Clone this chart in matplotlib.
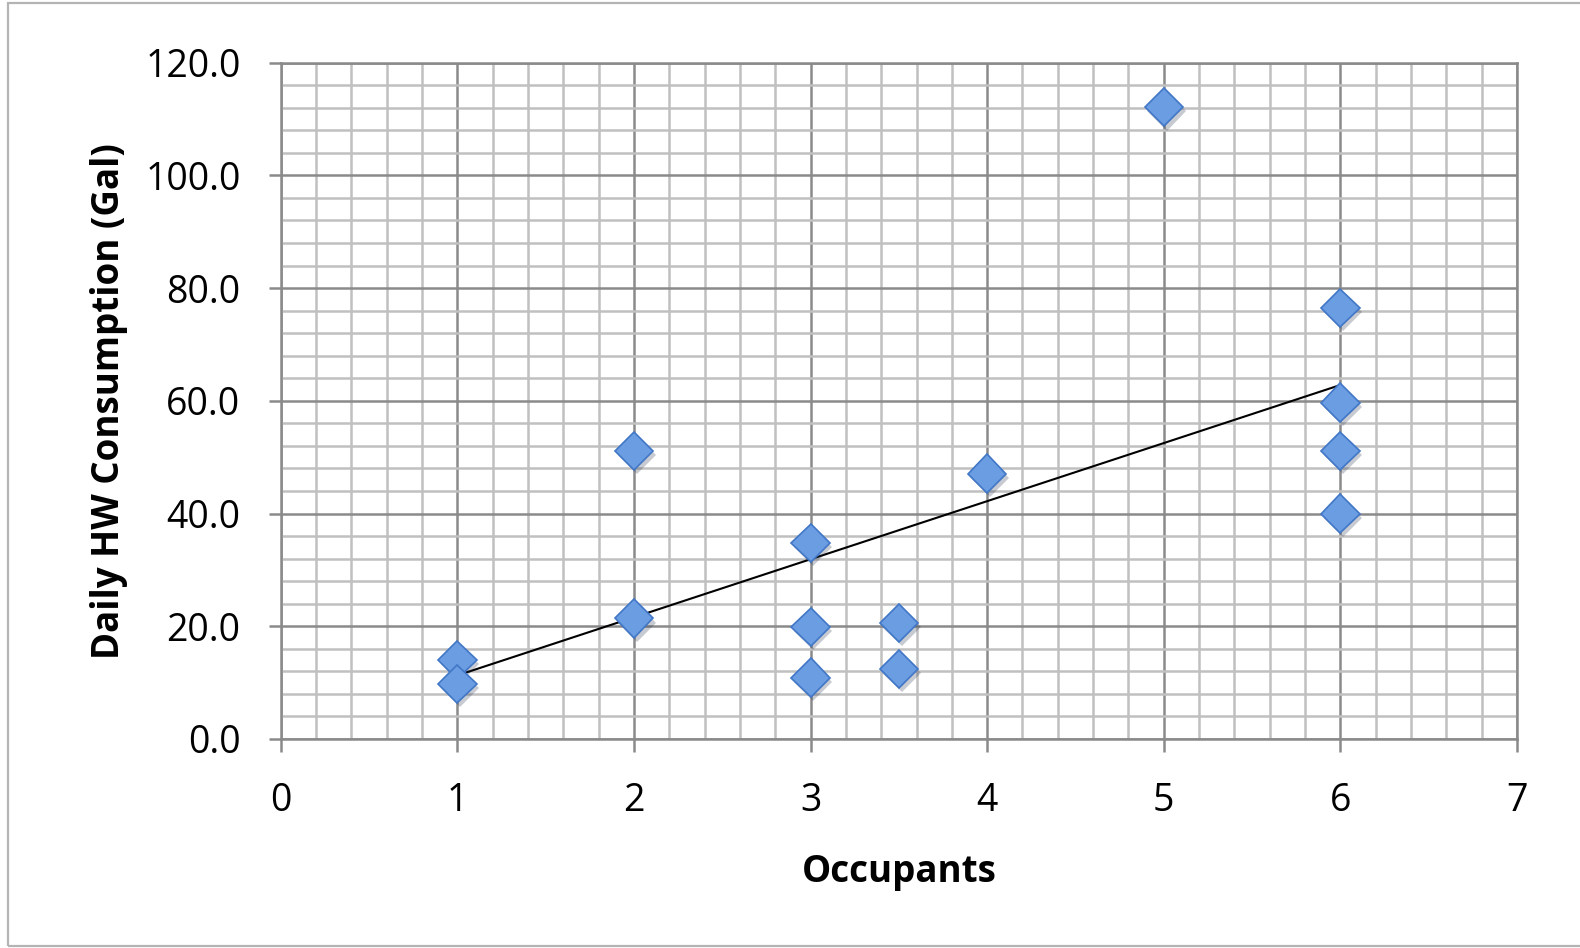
import numpy as np
import matplotlib
matplotlib.use("Agg")
import matplotlib.pyplot as plt
import matplotlib.patheffects as pe
from matplotlib.patches import Rectangle
from matplotlib.ticker import MultipleLocator, FormatStrFormatter

# Daily hot water use per household vs. number of occupants
occupants = [1, 1, 2, 2, 3, 3, 3, 3.5, 3.5, 4, 5, 6, 6, 6, 6]
consumo_gal = [14.0, 9.8, 51.1, 21.4, 34.8, 19.9, 10.9, 20.6, 12.4,
               47.1, 112.1, 76.5, 59.7, 51.1, 40.0]

plt.rcParams['font.family'] = ['Open Sans', 'DejaVu Sans']

fig = plt.figure(figsize=(15.8, 9.48), dpi=100)
ax = fig.add_axes([0.1777, 0.2205, 0.7824, 0.7134])

# Marco gris alrededor del gráfico
fig.patches.append(Rectangle((8 / 1580, 2 / 948), 1.2, 943 / 948,
                             transform=fig.transFigure, fill=False,
                             edgecolor='#b4b4b4', linewidth=1.6, zorder=0))

grid_major = '#8a8a8a'
grid_minor = '#c0c0c0'

ax.set_xlim(0, 7)
ax.set_ylim(0, 120)
ax.xaxis.set_major_locator(MultipleLocator(1))
ax.xaxis.set_minor_locator(MultipleLocator(0.2))
ax.yaxis.set_major_locator(MultipleLocator(20))
ax.yaxis.set_minor_locator(MultipleLocator(4))
ax.yaxis.set_major_formatter(FormatStrFormatter('%.1f'))

ax.grid(which='minor', color=grid_minor, linewidth=1.8, zorder=0)
ax.grid(which='major', color=grid_major, linewidth=1.8, zorder=0)
ax.set_axisbelow(True)
for s in ax.spines.values():
    s.set_color(grid_major)
    s.set_linewidth(1.8)

ax.tick_params(which='major', direction='out', length=9, width=1.8,
               color=grid_major, labelsize=27)
ax.tick_params(axis='y', pad=20)
ax.tick_params(axis='x', pad=22)
ax.tick_params(which='minor', length=0)

# Línea de tendencia (ajuste lineal)
m, b = np.polyfit(occupants, consumo_gal, 1)
xt = np.array([min(occupants), max(occupants)])
ax.plot(xt, m * xt + b, color='black', linewidth=1.5, zorder=3)

ax.plot(occupants, consumo_gal, linestyle='none', marker='D',
        markersize=19.5, markerfacecolor='#6b9de2', markeredgecolor='#4177c6',
        markeredgewidth=1.2, zorder=4,
        path_effects=[pe.SimplePatchShadow(offset=(2, -3), alpha=0.25),
                      pe.Normal()])

ax.set_xlabel('Occupants', fontsize=26.5, fontweight='bold', labelpad=24)
ax.set_ylabel('Daily HW Consumption (Gal)', fontsize=26.5, fontweight='bold',
              labelpad=12)

fig.savefig('out.png', dpi=100)
